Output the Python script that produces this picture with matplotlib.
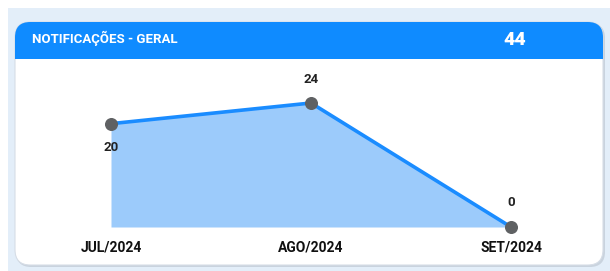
import matplotlib
matplotlib.use("Agg")
import matplotlib.pyplot as plt
from matplotlib.patches import FancyBboxPatch, Rectangle

months = ["JUL/2024", "AGO/2024", "SET/2024"]
values = [20, 24, 0]
title = "NOTIFICAÇÕES - GERAL"
total = "44"

W, H = 610, 271
plt.rcParams["font.family"] = ["Roboto", "DejaVu Sans"]

fig = plt.figure(figsize=(W / 100, H / 100), dpi=100)
fig.patch.set_facecolor("white")


def fx(px):
    return px / W


def fy(py):
    return 1 - py / H


# outer light-blue panel
fig.patches.append(Rectangle((fx(8), 0), 1 - fx(8), fy(8), transform=fig.transFigure,
                             facecolor="#e3eef9", edgecolor="none", zorder=0))

# card shadow + white body
shadow = FancyBboxPatch((fx(16), fy(267)), fx(589), (267 - 23) / H,
                        boxstyle="round,pad=0,rounding_size=0.025",
                        transform=fig.transFigure, facecolor="#c9d3de",
                        edgecolor="none", zorder=1, mutation_aspect=W / H)
fig.patches.append(shadow)
card = FancyBboxPatch((fx(15), fy(265)), fx(588), (265 - 22) / H,
                      boxstyle="round,pad=0,rounding_size=0.025",
                      transform=fig.transFigure, facecolor="white",
                      edgecolor="#d6dde6", linewidth=0.8, zorder=2, mutation_aspect=W / H)
fig.patches.append(card)

# blue header, rounded top only
header = FancyBboxPatch((fx(15), fy(100)), fx(588), (100 - 22) / H,
                        boxstyle="round,pad=0,rounding_size=0.025",
                        transform=fig.transFigure, facecolor="#0f8bff",
                        edgecolor="none", zorder=3, mutation_aspect=W / H)
fig.patches.append(header)
clip = Rectangle((0, fy(59)), 1, 1, transform=fig.transFigure)
header.set_clip_path(clip)

fig.text(fx(32), fy(38), title, color="white", fontsize=9.5, fontweight="bold",
         va="center", ha="left", zorder=4)
fig.text(fx(515), fy(40), total, color="white", fontsize=14, fontweight="black",
         va="center", ha="center", zorder=4)

# data axes: x 0..2 -> px 111..511, y 0..24 -> px 227..103
ax = fig.add_axes([fx(111), fy(227), fx(400), (227 - 103) / H], zorder=5)
ax.set_xlim(0, len(months) - 1)
ax.set_ylim(0, 24)
ax.patch.set_alpha(0)
for s in ax.spines.values():
    s.set_visible(False)

xs = list(range(len(months)))
ax.fill_between(xs, values, 0, color="#9ccbfb", linewidth=0, zorder=1)
ax.plot(xs, values, color="#1a8cff", linewidth=2.6, zorder=2, clip_on=False)
ax.scatter(xs, values, s=70, color="#5f6163", zorder=3, clip_on=False)

offsets = [-17, 17, 18]
for x, v, off in zip(xs, values, offsets):
    ax.annotate(str(v), (x, v), xytext=(0, off), textcoords="offset points",
                ha="center", va="center", fontsize=9.5, fontweight="bold",
                color="#222222", annotation_clip=False)

ax.set_xticks(xs)
ax.set_xticklabels(months, fontsize=10, fontweight="bold", color="#111111")
ax.tick_params(axis="x", length=0, pad=10)
ax.set_yticks([])

fig.savefig("out.png", dpi=100, facecolor=fig.get_facecolor())
